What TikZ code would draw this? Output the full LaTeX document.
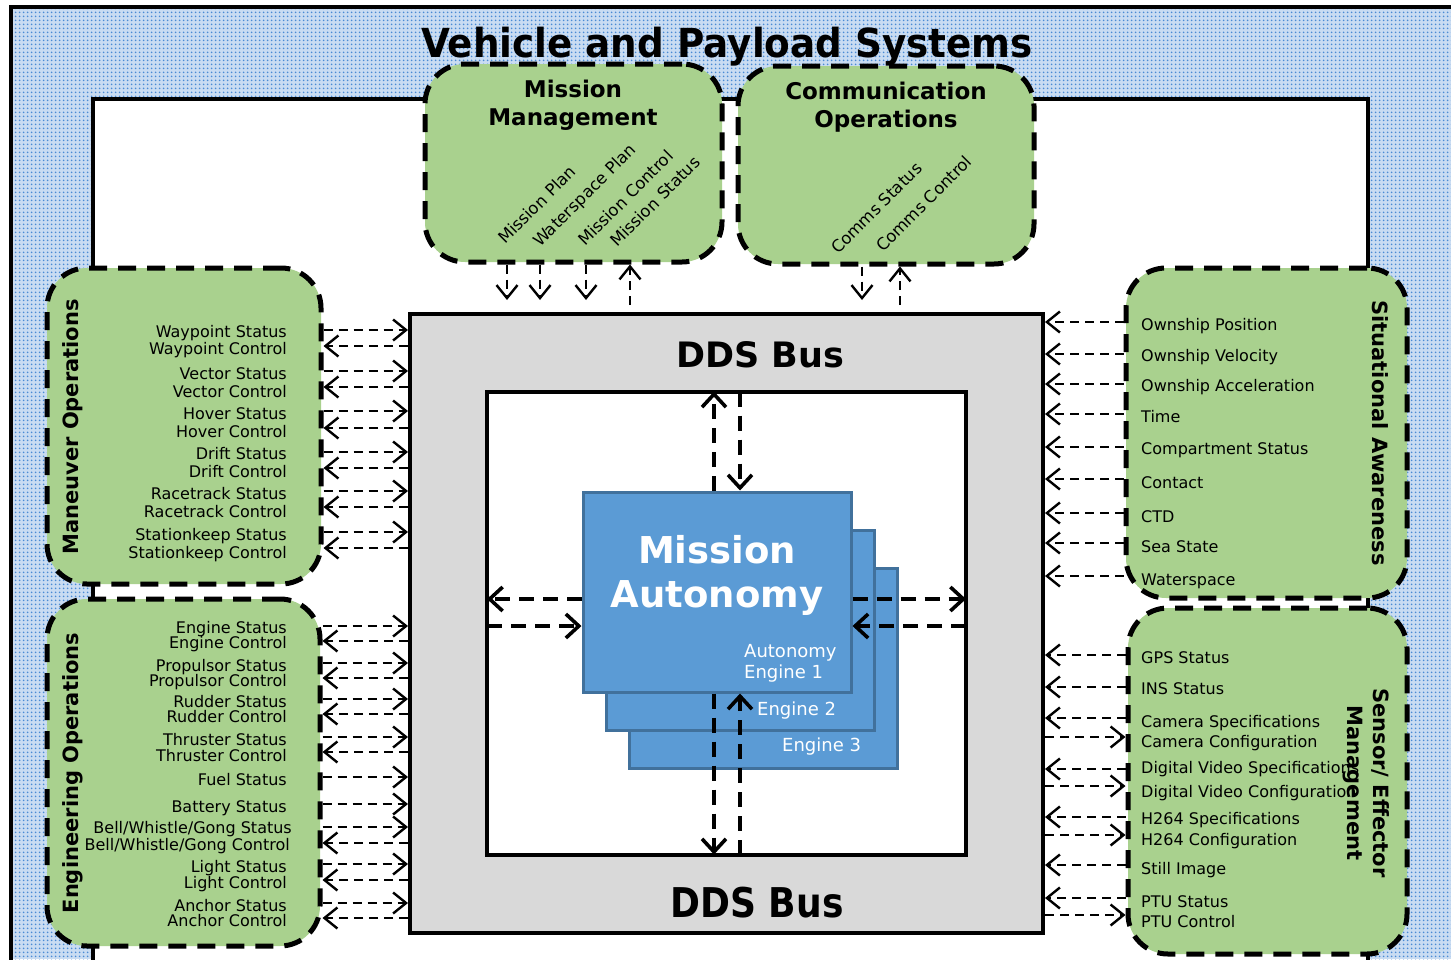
\documentclass[tikz,border=0pt]{standalone}
\usepackage{fontspec}
\usepackage{graphicx}
\setmainfont{DejaVu Sans}
\usetikzlibrary{arrows.meta,patterns.meta}

\definecolor{groupgreen}{HTML}{A9D18E}
\definecolor{engineblue}{HTML}{5B9BD5}
\definecolor{engineedge}{HTML}{41719C}
\definecolor{busgray}{HTML}{D9D9D9}
\definecolor{dotblue}{HTML}{4A8BD4}

\begin{document}
\begin{tikzpicture}[x=1pt,y=-1pt,
  group/.style={draw, fill=groupgreen, line width=5pt, dash pattern=on 18pt off 11pt,
    rounded corners=40pt, inner sep=0pt, outer sep=2.5pt},
  engine/.style={draw=engineedge, fill=engineblue, line width=3pt, inner sep=0pt,
    outer sep=1.5pt, minimum width=268pt, minimum height=200pt},
  topic/.style={-{Straight Barb[length=13pt,width=21pt]}, line width=2.4pt,
    dash pattern=on 9pt off 6pt},
  flow/.style={-{Straight Barb[length=13pt,width=24pt]}, line width=3.6pt,
    dash pattern=on 15pt off 9pt},
  lbl/.style={font=\fontsize{16}{17}\selectfont, inner sep=0pt},
  lblR/.style={lbl, anchor=base east},
  lblL/.style={lbl, anchor=base west},
  grouptitle/.style={font=\fontsize{23}{23}\selectfont\bfseries, inner sep=0pt, anchor=base},
  sidetitle/.style={font=\fontsize{21}{21}\selectfont\bfseries, inner sep=0pt},
  diag/.style={font=\fontsize{16.5}{16.5}\selectfont, inner sep=0pt, rotate=45, anchor=base west},
  enginetext/.style={font=\fontsize{18}{18}\selectfont, text=white, inner sep=0pt, anchor=base west},
]
\useasboundingbox (0,0) rectangle (1451,959);

% ---------- vehicle and payload frame ----------
\fill[white] (0,0) rectangle (1451,959);
\fill[dotblue!30] (11,7) rectangle (1451,959);
\fill[pattern={Dots[distance=4pt,radius=1.15pt]}, pattern color=dotblue] (11,7) rectangle (1451,959);
\draw[line width=4pt] (11,962) -- (11,7) -- (1454,7);
\node[draw, fill=white, line width=4pt, minimum width=1275pt, minimum height=900pt,
  anchor=north west, inner sep=0pt, outer sep=0pt] (frame) at (93,99) {};
\node[font=\fontsize{40}{40}\selectfont\bfseries, inner sep=0pt, anchor=base] (title) at (727,57)
  {\scalebox{0.933}[1]{Vehicle and Payload Systems}};

% ---------- service groups ----------
\node[group, minimum width=297pt, minimum height=198pt] (mm) at (573.5,163) {};
\node[group, minimum width=296pt, minimum height=198pt] (co) at (886,165) {};
\node[group, minimum width=274pt, minimum height=316pt] (mo) at (184,426) {};
\node[group, minimum width=273pt, minimum height=347pt] (eo) at (183.5,772.5) {};
\node[group, minimum width=281pt, minimum height=330pt] (sa) at (1266.5,433) {};
\node[group, minimum width=279pt, minimum height=346pt] (se) at (1267.5,781) {};

% ---------- DDS bus ----------
\node[draw, fill=busgray, line width=4.5pt, minimum width=633pt, minimum height=619pt,
  inner sep=0pt, outer sep=2pt] (bus) at (726.5,623.5) {};
\node[draw, fill=white, line width=4pt, minimum width=479pt, minimum height=463pt,
  inner sep=0pt, outer sep=0pt] (core) at (726.5,623) {};
\node[font=\fontsize{35}{35}\selectfont\bfseries, inner sep=0pt] (bustop) at (760,355) {DDS Bus};
\node[font=\fontsize{41}{41}\selectfont\bfseries, inner sep=0pt] (busbot) at (757,903)
  {\scalebox{0.88}[1]{DDS Bus}};

% ---------- autonomy engines ----------
\node[engine] (e3) at (763.5,668) {};
\node[engine] (e2) at (740.5,630) {};
\node[engine] (e1) at (717,592) {};
\node[font=\fontsize{37}{37}\selectfont\bfseries, text=white, inner sep=0pt, anchor=base] (ma1) at (717,563) {Mission};
\node[font=\fontsize{37}{37}\selectfont\bfseries, text=white, inner sep=0pt, anchor=base] (ma2) at (717,607) {Autonomy};
\node[enginetext] (en1a) at (744,657) {Autonomy};
\node[enginetext] (en1b) at (744,678) {Engine 1};
\node[enginetext] (en2) at (757,715) {Engine 2};
\node[enginetext] (en3) at (782,751) {Engine 3};

% ---------- group titles ----------
\node[grouptitle] (mmt1) at (573,97) {Mission};
\node[grouptitle] (mmt2) at (573,125) {Management};
\node[grouptitle] (cot1) at (886,99) {Communication};
\node[grouptitle] (cot2) at (886,127) {Operations};
\node[sidetitle, rotate=90] (mot) at (73,427) {Maneuver Operations};
\node[sidetitle, rotate=90] (eot) at (73,773) {Engineering Operations};
\node[sidetitle, rotate=-90] (sat) at (1380,433) {Situational Awareness};

% ---------- topic labels ----------
\node[diag] (t1) at (505,245) {Mission Plan};
\node[diag] (t2) at (540,248) {Waterspace Plan};
\node[diag] (t3) at (585,247) {Mission Control};
\node[diag] (t4) at (617,248) {Mission Status};
\node[diag] (t5) at (838,255) {Comms Status};
\node[diag] (t6) at (883,253) {Comms Control};

\foreach \t/\y [count=\i] in {Waypoint Status/337, Waypoint Control/354,
    Vector Status/379, Vector Control/397, Hover Status/419, Hover Control/437,
    Drift Status/459, Drift Control/477, Racetrack Status/499, Racetrack Control/517,
    Stationkeep Status/540, Stationkeep Control/558}
  \node[lblR] (mo-\i) at (287,\y) {\t};

\foreach \t/\y [count=\i] in {Engine Status/633, Engine Control/648,
    Propulsor Status/671, Propulsor Control/686, Rudder Status/707, Rudder Control/722,
    Thruster Status/745, Thruster Control/761, Fuel Status/785, Battery Status/812,
    Light Status/872, Light Control/888, Anchor Status/911, Anchor Control/926}
  \node[lblR] (eo-\i) at (287,\y) {\t};
\node[lblR] (eo-bs) at (292,833) {Bell/Whistle/Gong Status};
\node[lblR] (eo-bc) at (290,850) {Bell/Whistle/Gong Control};

\foreach \t/\y [count=\i] in {Ownship Position/330, Ownship Velocity/361,
    Ownship Acceleration/391, Time/422, Compartment Status/454, Contact/488,
    CTD/522, Sea State/552, Waterspace/585}
  \node[lblL] (sa-\i) at (1141,\y) {\t};

\foreach \t/\y [count=\i] in {GPS Status/663, INS Status/694,
    Camera Specifications/727, Camera Configuration/747,
    Digital Video Specifications/773, Digital Video Configuration/797,
    H264 Specifications/824, H264 Configuration/845, Still Image/874,
    PTU Status/907, PTU Control/927}
  \node[lblL] (se-\i) at (1141,\y) {\t};

\node[sidetitle, rotate=-90] (set1) at (1380,783) {Sensor/ Effector};
\node[sidetitle, rotate=-90] (set2) at (1353,783) {Management};

% ---------- topic flows: groups <-> bus ----------
\foreach \x in {507,540,586}
  \draw[topic, shorten >=12pt] (mm.south -| \x,0) -- (bus.north -| \x,0);
\draw[topic, shorten <=7pt] (bus.north -| 630,0) -- (mm.south -| 630,0);
\draw[topic, shorten >=12pt] (co.south -| 862,0) -- (bus.north -| 862,0);
\draw[topic, shorten <=7pt] (bus.north -| 900,0) -- (co.south -| 900,0);

\foreach \y in {330,371,411,452,491,532}
  \draw[topic] (mo.east |- 0,\y) -- (bus.west |- 0,\y);
\foreach \y in {346,387,428,468,507,548}
  \draw[topic] (bus.west |- 0,\y) -- (mo.east |- 0,\y);

\foreach \y in {626,663,699,737,777,804,827,864,903}
  \draw[topic] (eo.east |- 0,\y) -- (bus.west |- 0,\y);
\foreach \y in {641,678,714,752,843,880,918}
  \draw[topic] (bus.west |- 0,\y) -- (eo.east |- 0,\y);

\foreach \y in {322,354,384,414,447,479,513,543,576}
  \draw[topic] (sa.west |- 0,\y) -- (bus.east |- 0,\y);

\foreach \y in {655,687,718,769,817,865,898}
  \draw[topic] (se.west |- 0,\y) -- (bus.east |- 0,\y);
\foreach \y in {737,786,835,915}
  \draw[topic] (bus.east |- 0,\y) -- (se.west |- 0,\y);

% ---------- flows: engine <-> bus core ----------
\draw[flow] (e1.north -| 714,0) -- (core.north -| 714,0);
\draw[flow] (core.north -| 740,0) -- (e1.north -| 740,0);
\draw[flow] (e1.west |- 0,599) -- (core.west |- 0,599);
\draw[flow] (core.west |- 0,626) -- (e1.west |- 0,626);
\draw[flow] (e1.east |- 0,599) -- (core.east |- 0,599);
\draw[flow] (core.east |- 0,626) -- (e1.east |- 0,626);
\draw[flow] (e1.south -| 714,0) -- (core.south -| 714,0);
\draw[flow] (core.south -| 740,0) -- (e1.south -| 740,0);
\end{tikzpicture}
\end{document}
